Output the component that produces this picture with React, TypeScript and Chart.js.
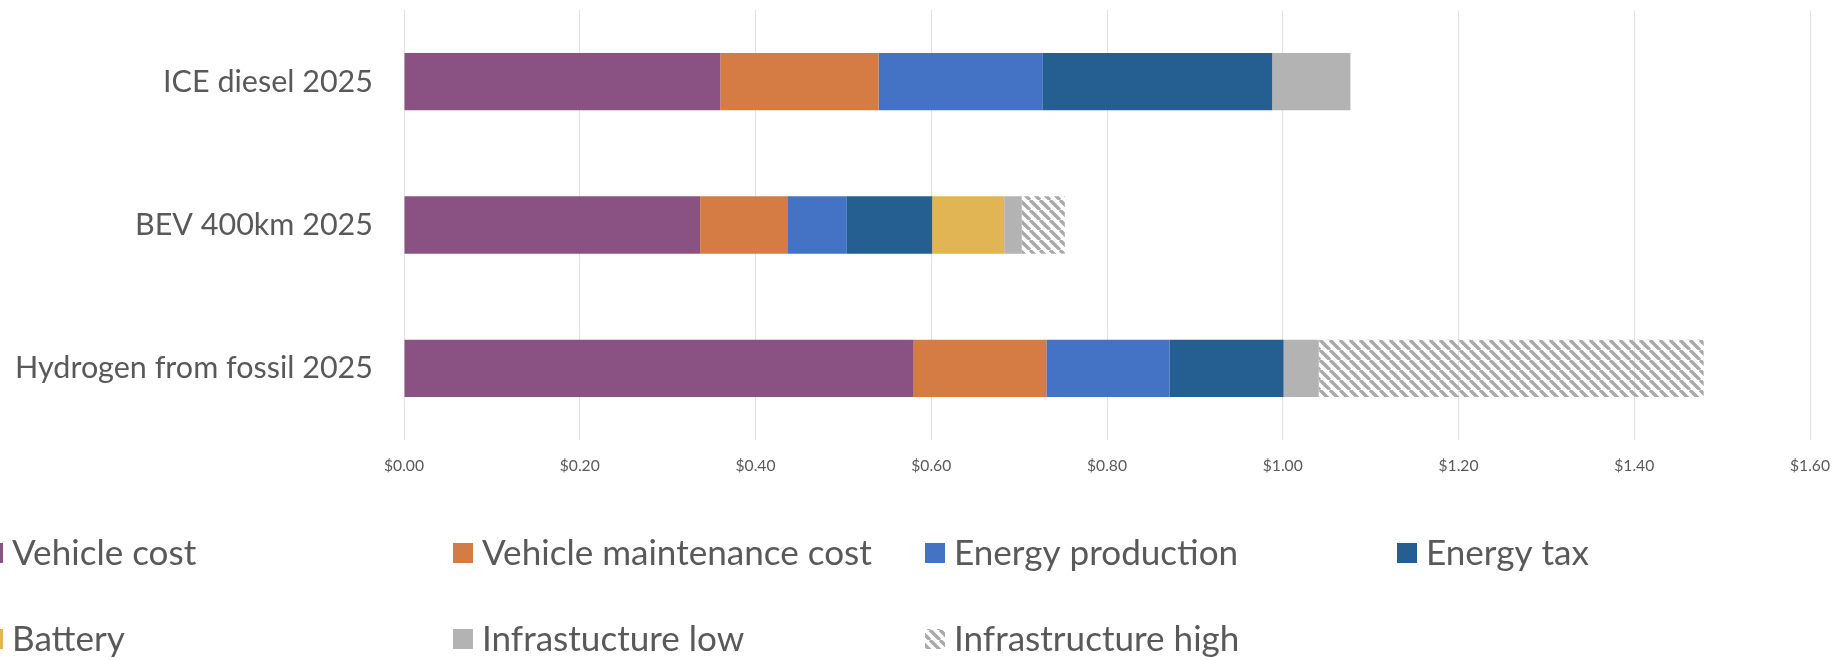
import React, { useEffect, useRef } from "react";
import { Chart, registerables } from "chart.js";

Chart.register(...registerables);

// ---- data ----
const categories = ["ICE diesel 2025", "BEV 400km 2025", "Hydrogen from fossil 2025"];
const seriesNames = [
  "Vehicle cost",
  "Vehicle maintenance cost",
  "Energy production",
  "Energy tax",
  "Battery",
  "Infrastucture low",
  "Infrastructure high",
];
const vehicleCost = [0.36, 0.337, 0.58];
const vehicleMaintenanceCost = [0.18, 0.1, 0.151];
const energyProduction = [0.187, 0.067, 0.14];
const energyTax = [0.261, 0.097, 0.13];
const battery = [0, 0.082, 0];
const infrastructureLow = [0.089, 0.02, 0.04];
const infrastructureHigh = [0, 0.049, 0.438];
const xMin = 0;
const xMax = 1.6;
const xStep = 0.2;

// ---- styles ----
const W = 1837;
const H = 660;
const FONT = "Lato, 'Open Sans', sans-serif";
const TEXT = "#595959";
const GRID = "#e2e2e2";
const COLORS = ["#8a5282", "#d57c45", "#4472c4", "#255e91", "#e1b454", "#b3b3b3"];
const HATCH = "#a9a9a9";

function fitSize(text: string, target: number): number {
  const c = document.createElement("canvas").getContext("2d")!;
  c.font = `100px ${FONT}`;
  const w = c.measureText(text).width;
  return (100 * target) / w;
}

function makeHatch(): CanvasPattern | string {
  const p = 10;
  const cv = document.createElement("canvas");
  cv.width = p;
  cv.height = p;
  const c = cv.getContext("2d")!;
  c.strokeStyle = HATCH;
  c.lineWidth = 3.4;
  c.beginPath();
  for (let k = -1; k <= 1; k++) {
    c.moveTo(k * p, 0);
    c.lineTo(k * p + p, p);
  }
  c.stroke();
  const pat = c.createPattern(cv, "repeat");
  return pat || HATCH;
}

export default function App() {
  const ref = useRef<HTMLCanvasElement | null>(null);

  useEffect(() => {
    if (!ref.current) return;
    const labelSize = fitSize("Hydrogen from fossil 2025", 358);
    const tickSize = fitSize("$0.00", 40);
    const legendSize = fitSize("Vehicle maintenance cost", 390);
    const hatch = makeHatch();

    const values = [
      vehicleCost,
      vehicleMaintenanceCost,
      energyProduction,
      energyTax,
      battery,
      infrastructureLow,
      infrastructureHigh,
    ];
    const datasets = values.map((v, i) => ({
      label: seriesNames[i],
      data: v,
      backgroundColor: i < COLORS.length ? COLORS[i] : (hatch as any),
      borderWidth: 0,
      categoryPercentage: 1,
      barPercentage: 0.4,
    }));

    const legendCols = [-17, 453, 925, 1397];
    const legendBaselines = [565, 651];

    const gridLegend = {
      id: "gridLegend",
      afterDraw(chart: any) {
        const ctx = chart.ctx as CanvasRenderingContext2D;
        ctx.save();
        ctx.font = `${legendSize}px ${FONT}`;
        ctx.textAlign = "left";
        ctx.textBaseline = "alphabetic";
        chart.data.datasets.forEach((ds: any, i: number) => {
          const x = legendCols[i % 4];
          const base = legendBaselines[Math.floor(i / 4)];
          ctx.fillStyle = ds.backgroundColor;
          ctx.fillRect(x, base - 22, 20, 20);
          ctx.fillStyle = TEXT;
          ctx.fillText(ds.label, x + 29, base);
        });
        ctx.restore();
      },
    };

    const chart = new Chart(ref.current, {
      type: "bar",
      data: { labels: categories, datasets },
      options: {
        indexAxis: "y",
        animation: false,
        responsive: true,
        maintainAspectRatio: false,
        layout: { padding: { top: 10, bottom: 0, left: 0, right: 0 } },
        plugins: { legend: { display: false }, tooltip: { enabled: false } },
        scales: {
          x: {
            type: "linear",
            stacked: true,
            min: xMin,
            max: xMax,
            ticks: {
              stepSize: xStep,
              color: TEXT,
              padding: 17,
              font: { family: FONT, size: tickSize },
              callback: (v: any) => "$" + Number(v).toFixed(2),
            },
            grid: { color: GRID, lineWidth: 1, drawTicks: false },
            border: { display: false },
            afterFit: (s: any) => {
              s.height = 220;
              s.paddingLeft = 0;
              s.paddingRight = 27;
            },
          },
          y: {
            type: "category",
            stacked: true,
            ticks: {
              color: TEXT,
              padding: 31,
              font: { family: FONT, size: labelSize },
            },
            grid: { display: false, drawTicks: false },
            border: { display: false },
            afterFit: (s: any) => {
              s.width = 404;
              s.paddingTop = 0;
              s.paddingBottom = 0;
            },
          },
        },
      },
      plugins: [gridLegend],
    });
    return () => chart.destroy();
  }, []);

  return (
    <div
      style={{
        position: "absolute",
        left: 0,
        top: 0,
        width: W,
        height: H,
        overflow: "hidden",
        background: "#ffffff",
      }}
    >
      <canvas ref={ref} />
    </div>
  );
}
